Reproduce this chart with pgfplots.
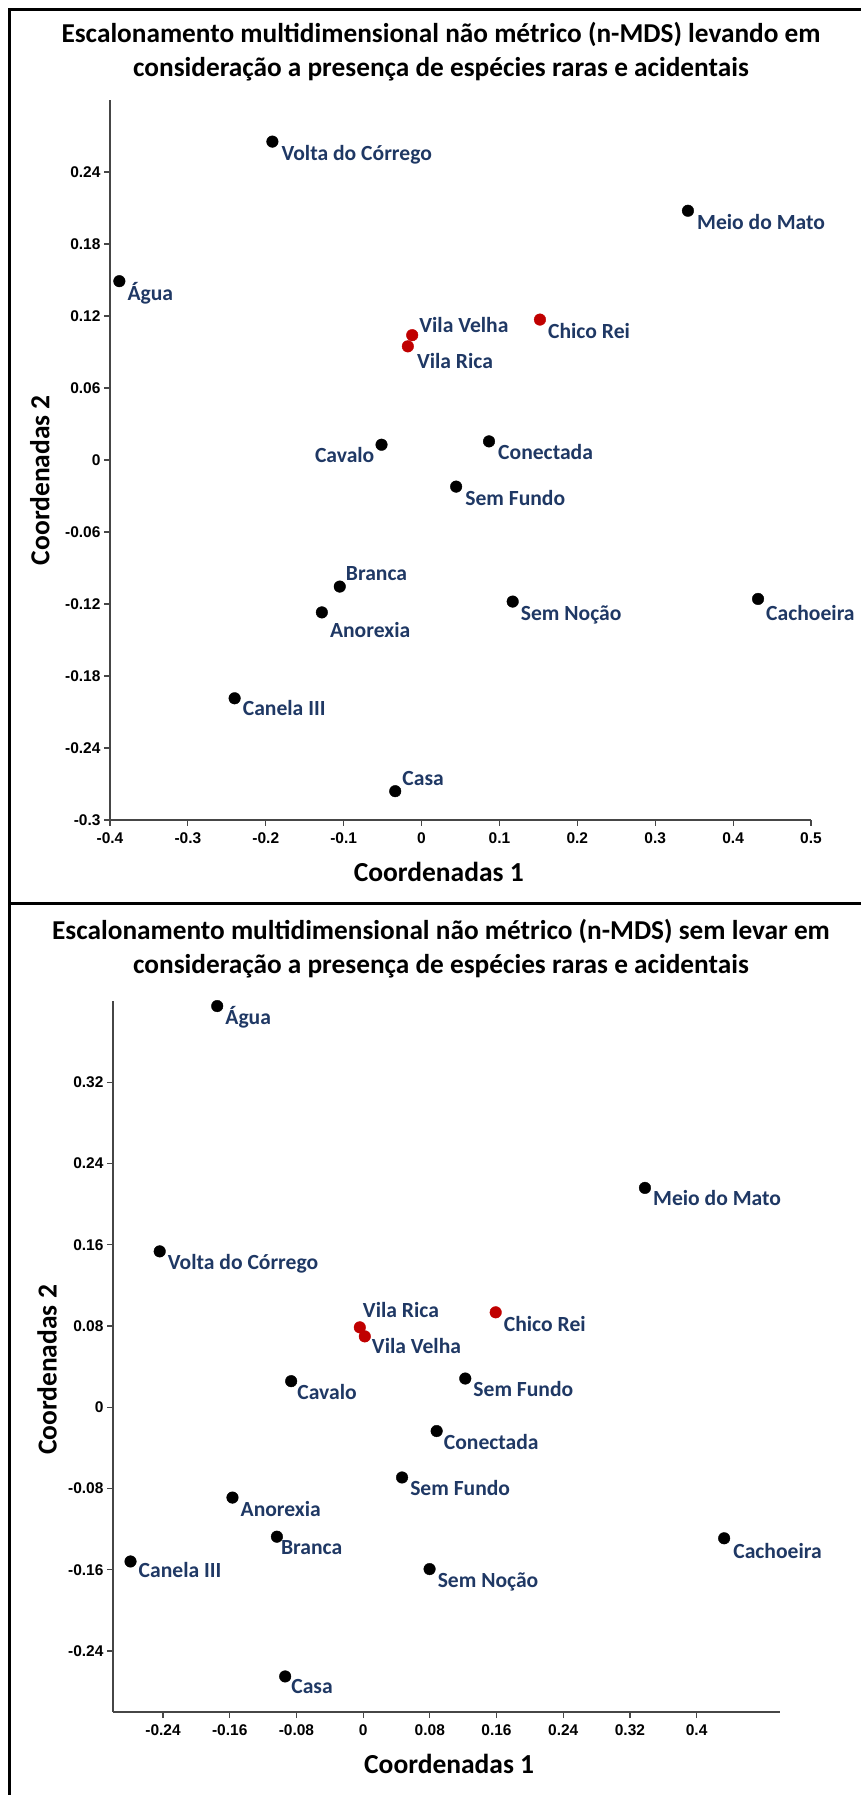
\documentclass[border=0pt]{standalone}
\usepackage{fontspec}
\setmainfont{Carlito}
\newfontfamily\tickfont{Liberation Sans}
\usepackage{pgfplots}
\usepackage{pgfplotstable}
\pgfplotsset{compat=1.18}

\definecolor{labelnavy}{RGB}{31,56,100}
\definecolor{markred}{RGB}{192,0,0}
\definecolor{axisgray}{RGB}{70,70,70}

% n-MDS coordinates: x, y, site name and label offset (pt)
\pgfplotstableread[col sep=comma]{
x,y,label,dx,dy
-0.1915,0.2653,Volta do Córrego,9,-19
0.342,0.2077,Meio do Mato,9,-19
-0.388,0.149,Água,8,-19
0.0866,0.0155,Conectada,9,-18
0.0444,-0.0222,Sem Fundo,9,-19
-0.105,-0.1055,Branca,6,6
-0.128,-0.127,Anorexia,8,-25
0.117,-0.118,Sem Noção,8,-19
0.432,-0.1158,Cachoeira,8,-22
-0.240,-0.1986,Canela III,8,-17
-0.0338,-0.276,Casa,7,6
}\topblack

% label set to the left of the point
\pgfplotstableread[col sep=comma]{
x,y,label,dx,dy
-0.0514,0.0127,Cavalo,-7,-18
}\topleft

\pgfplotstableread[col sep=comma]{
x,y,label,dx,dy
0.152,0.117,Chico Rei,8,-19
-0.012,0.104,Vila Velha,7,3
-0.0176,0.0947,Vila Rica,9,-22
}\topred

\pgfplotstableread[col sep=comma]{
x,y,label,dx,dy
-0.175,0.395,Água,8,-18
0.338,0.216,Meio do Mato,8,-18
-0.244,0.1535,Volta do Córrego,8,-18
-0.0863,0.0257,Cavalo,6,-18
0.1225,0.0283,Sem Fundo,8,-18
0.0882,-0.0234,Conectada,7,-18
0.0467,-0.0691,Sem Fundo,8,-18
-0.1567,-0.0889,Anorexia,8,-19
-0.1034,-0.1274,Branca,4,-18
-0.279,-0.1518,Canela III,8,-16
0.0797,-0.1593,Sem Noção,8,-18
0.433,-0.129,Cachoeira,9,-20
-0.0935,-0.265,Casa,6,-17
}\botblack

\pgfplotstableread[col sep=comma]{
x,y,label,dx,dy
0.159,0.0935,Chico Rei,8,-19
-0.004,0.0787,Vila Rica,3,10
0.002,0.0698,Vila Velha,7,-17
}\botred

\pgfplotsset{
  mdsaxis/.style={
    scale only axis,
    clip=false,
    axis lines=left,
    axis line style={-, line width=1.5pt, axisgray},
    tick align=outside,
    major tick length=6pt,
    every tick/.style={line width=1.2pt, axisgray},
    tick label style={font=\tickfont\bfseries\fontsize{15.5}{15.5}\selectfont, text=black},
    xticklabel style={yshift=-3pt},
    label style={font=\bfseries\fontsize{27.5}{27.5}\selectfont, text=black},
    xlabel={Coordenadas 1},
    ylabel={Coordenadas 2},
  },
  sites/.style={
    only marks,
    mark=*,
    mark size=5.8pt,
    point meta=explicit symbolic,
    nodes near coords,
    visualization depends on={\thisrow{dx} \as \labdx},
    visualization depends on={\thisrow{dy} \as \labdy},
    every node near coord/.style={
      anchor=#1, xshift=\labdx, yshift=\labdy,
      inner sep=0pt, text=labelnavy,
      font=\bfseries\fontsize{21.6}{21.6}\selectfont},
  },
  sites/.default={base west},
}

\begin{document}
\begin{tikzpicture}
\useasboundingbox (0pt,0pt) rectangle (861pt,1795pt);

% panel frame
\draw[line width=3pt] (9pt,0pt) -- (9pt,1785pt) -- (862pt,1785pt);
\draw[line width=3pt] (9pt,891pt) -- (862pt,891pt);

% panel titles
\begin{scope}[every node/.style={font=\bfseries\fontsize{27.3}{27.3}\selectfont, anchor=base, inner sep=0pt}]
\node at (441pt,1752pt) {Escalonamento multidimensional não métrico (n-MDS) levando em};
\node at (441pt,1718pt) {consideração a presença de espécies raras e acidentais};
\node at (441pt,855pt) {Escalonamento multidimensional não métrico (n-MDS) sem levar em};
\node at (441pt,821pt) {consideração a presença de espécies raras e acidentais};
\end{scope}

% with rare and accidental species
\begin{axis}[mdsaxis,
  at={(110pt,975pt)}, anchor=south west,
  width=701pt, height=720pt,
  xmin=-0.4, xmax=0.5, ymin=-0.3, ymax=0.3,
  xtick={-0.4,-0.3,-0.2,-0.1,0,0.1,0.2,0.3,0.4,0.5},
  xticklabels={-0.4,-0.3,-0.2,-0.1,0,0.1,0.2,0.3,0.4,0.5},
  ytick={-0.3,-0.24,-0.18,-0.12,-0.06,0,0.06,0.12,0.18,0.24},
  yticklabels={-0.3,-0.24,-0.18,-0.12,-0.06,0,0.06,0.12,0.18,0.24},
  xlabel style={at={(axis description cs:0.469,0)}, anchor=center, yshift=-52pt},
  ylabel style={at={(axis description cs:-0.100,0.472)}, anchor=center},
]
\addplot[sites, black] table[x=x, y=y, meta=label] {\topblack};
\addplot[sites=base east, black] table[x=x, y=y, meta=label] {\topleft};
\addplot[sites, markred] table[x=x, y=y, meta=label] {\topred};
\end{axis}

% without rare and accidental species
\begin{axis}[mdsaxis,
  at={(113pt,83pt)}, anchor=south west,
  width=667pt, height=711pt,
  xmin=-0.3, xmax=0.5, ymin=-0.3, ymax=0.4,
  xtick={-0.24,-0.16,-0.08,0,0.08,0.16,0.24,0.32,0.4},
  xticklabels={-0.24,-0.16,-0.08,0,0.08,0.16,0.24,0.32,0.4},
  ytick={-0.24,-0.16,-0.08,0,0.08,0.16,0.24,0.32},
  yticklabels={-0.24,-0.16,-0.08,0,0.08,0.16,0.24,0.32},
  xlabel style={at={(axis description cs:0.504,0)}, anchor=center, yshift=-52pt},
  ylabel style={at={(axis description cs:-0.099,0.481)}, anchor=center},
]
\addplot[sites, black] table[x=x, y=y, meta=label] {\botblack};
\addplot[sites, markred] table[x=x, y=y, meta=label] {\botred};
\end{axis}
\end{tikzpicture}
\end{document}
